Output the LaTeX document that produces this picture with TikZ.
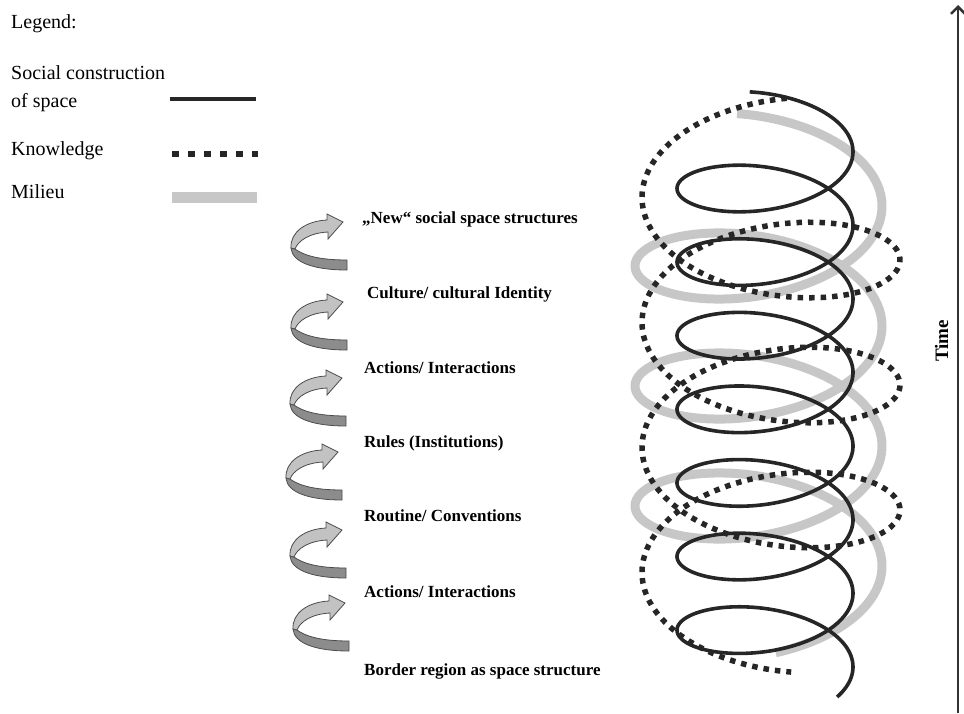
\documentclass[tikz,border=0pt]{standalone}
\usepackage{fontspec}
\setmainfont{Liberation Serif}
\usetikzlibrary{arrows.meta, positioning}

\begin{document}
\begin{tikzpicture}[x=1pt, y=-1pt,
    social/.style={draw=black!85, line width=3.6pt, line join=round},
    knowledge/.style={draw=black!85, line width=5.5pt, dash pattern=on 5.5pt off 6pt},
    milieu/.style={draw=black!22, line width=9pt, line join=round},
    legtext/.style={anchor=base west, inner sep=0pt, font=\fontsize{20}{24}\selectfont},
    steplabel/.style={anchor=base west, inner sep=0pt, font=\bfseries\fontsize{17}{20}\selectfont},
    curvedarrow/.pic={
        \filldraw[fill=black!45, draw=black!70, line width=0.8pt] (-52,26) -- (-48,27) .. controls (-40,33) and (-25,38) .. (4,38) -- (4,48) .. controls (-30,48) and (-51,40) .. (-52,26) -- cycle;
        \filldraw[fill=black!24, draw=black!70, line width=0.8pt] (0,0) -- (-16,-8) -- (-16,-2) .. controls (-37,-1) and (-53,10) .. (-52,26) -- (-48,27) .. controls (-45,19) and (-34,11) .. (-15,10) -- (-15,17) -- cycle;
    }]
    \useasboundingbox (0,0) rectangle (964,713);

    % Legend
    \node[legtext] (legend) at (11,28) {Legend:};
    \node[legtext] (soc) at (11,79) {Social construction};
    \node[legtext, below=28pt of soc.base west, anchor=base west] (socb) {of space};
    \node[legtext] (know) at (11,155) {Knowledge};
    \node[legtext] (mil) at (11,198) {Milieu};
    \coordinate (socl) at (170,99);
    \coordinate (socr) at (256,99);
    \coordinate (knowl) at (172,154);
    \coordinate (knowr) at (258,154);
    \coordinate (mill) at (172,197);
    \coordinate (milr) at (257,197);
    \draw[social, line width=4pt] (socl) -- (socr);
    \draw[knowledge, line width=6pt, dash pattern=on 7pt off 9pt] (knowl) -- (knowr);
    \draw[milieu, line width=11pt] (mill) -- (milr);

    % Steps with curved arrows
    \node[steplabel] (newstruct) at (362,223) {„New“ social space structures};
    \node[steplabel] (culture) at (367,298) {Culture/ cultural Identity};
    \node[steplabel] (actions1) at (364,373) {Actions/ Interactions};
    \node[steplabel] (rules) at (364,447) {Rules (Institutions)};
    \node[steplabel] (routine) at (364,521) {Routine/ Conventions};
    \node[steplabel] (actions2) at (364,597) {Actions/ Interactions};
    \node[steplabel] (border) at (364,675) {Border region as space structure};
    \pic (arr1) at (343,222) {curvedarrow};
    \pic (arr2) at (343,302) {curvedarrow};
    \pic (arr3) at (342,378) {curvedarrow};
    \pic (arr4) at (338,452) {curvedarrow};
    \pic (arr5) at (342,530) {curvedarrow};
    \pic (arr6) at (345,603) {curvedarrow};

    % Spirals
    \draw[milieu] plot[domain=-100:1162, samples=500, variable=\t] ({758.5+123.5*cos(\t)}, {206+60*sin(\t)+\t/360*120});
    \draw[knowledge] plot[domain=83:1359, samples=500, variable=\t] ({771+129*cos(\t)}, {135-66*sin(\t)+\t/360*125});
    \draw[social] plot[domain=-100:2555, samples=900, variable=\t] ({765+88*cos(\t)}, {151.7+40*sin(\t)+\t/360*73.6});

    % Time axis
    \coordinate (tbot) at (958,713);
    \coordinate (ttop) at (958,5);
    \draw[draw=black!80, line width=2.5pt, -{Straight Barb[length=7pt, width=14pt]}] (tbot) -- (ttop);
    \node[rotate=90, inner sep=0pt, font=\bfseries\fontsize{19}{22}\selectfont] (time) at (941.5,341) {Time};
\end{tikzpicture}
\end{document}
